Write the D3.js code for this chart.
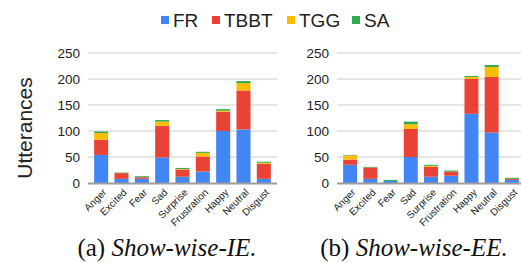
<!DOCTYPE html>
<html>
<head>
<meta charset="utf-8">
<script src="https://cdn.jsdelivr.net/npm/d3@7"></script>
<style>
  body { margin: 0; background: #fff; }
  svg text { font-family: "Liberation Sans", Arial, sans-serif; }
</style>
</head>
<body>
<div id="chart"></div>
<script>
const emotions = ["Anger", "Excited", "Fear", "Sad", "Surprise", "Frustration", "Happy", "Neutral", "Disgust"];
const shows = ["FR", "TBBT", "TGG", "SA"];
const yTicks = [0, 50, 100, 150, 200, 250];

// (a) Show-wise-IE
const ieFR   = [54, 8, 8, 49, 12, 22, 100, 103, 8];
const ieTBBT = [29, 11, 3, 61, 14, 29, 37, 75, 29];
const ieTGG  = [13, 0, 0, 8, 1, 7, 2, 14, 2];
const ieSA   = [3, 1, 2, 3, 2, 2, 3, 4, 2];

// (b) Show-wise-EE
const eeFR   = [35, 8, 4, 50, 12, 14, 133, 97, 6];
const eeTBBT = [10, 22, 0, 54, 19, 8, 67, 107, 2];
const eeTGG  = [8, 0, 0, 9, 2, 0, 4, 19, 0];
const eeSA   = [1, 1, 2, 5, 2, 2, 2, 4, 2];

const captions = ["Show-wise-IE.", "Show-wise-EE."];
const captionTags = ["(a) ", "(b) "];

const colors = ["#4285f4", "#ea4335", "#fbbc04", "#34a853"];

const w = 521, h = 263;
const svg = d3.select("#chart").append("svg").attr("width", w).attr("height", h);

const y = d3.scaleLinear().domain([0, 250]).range([183, 53]);
const color = d3.scaleOrdinal().domain(shows).range(colors);

function buildRows(series) {
  return emotions.map((e, i) => {
    const row = { emotion: e };
    shows.forEach((s, j) => { row[s] = series[j][i]; });
    return row;
  });
}

const panels = [
  { rows: buildRows([ieFR, ieTBBT, ieTGG, ieSA]), grid: [88, 277], band: [91, 274], labelX: 80, capX: 167 },
  { rows: buildRows([eeFR, eeTBBT, eeTGG, eeSA]), grid: [337, 521], band: [340, 522], labelX: 329, capX: 414 }
];

panels.forEach((p, k) => {
  const g = svg.append("g");
  const x = d3.scaleBand().domain(emotions).range(p.band).paddingInner(0.31).paddingOuter(0.155);

  // gridlines
  g.selectAll(".grid")
    .data(yTicks.slice(1))
    .enter()
    .append("line")
    .attr("x1", p.grid[0]).attr("x2", p.grid[1])
    .attr("y1", d => y(d)).attr("y2", d => y(d))
    .attr("stroke", "#cccccc").attr("stroke-width", 1);

  // y tick labels
  g.selectAll(".ytick")
    .data(yTicks)
    .enter()
    .append("text")
    .attr("x", p.labelX)
    .attr("y", d => y(d) + 5)
    .attr("text-anchor", "end")
    .style("font-size", "13.5px")
    .style("fill", "#222")
    .text(d => d);

  // stacked bars
  const stacked = d3.stack().keys(shows)(p.rows);
  g.selectAll(".layer")
    .data(stacked)
    .enter()
    .append("g")
    .attr("fill", d => color(d.key))
    .selectAll("rect")
    .data(d => d)
    .enter()
    .append("rect")
    .attr("x", d => x(d.data.emotion))
    .attr("width", x.bandwidth())
    .attr("y", d => y(d[1]))
    .attr("height", d => y(d[0]) - y(d[1]));

  // baseline
  g.append("line")
    .attr("x1", p.grid[0]).attr("x2", p.grid[1])
    .attr("y1", y(0) + 0.5).attr("y2", y(0) + 0.5)
    .attr("stroke", "#9e9e9e").attr("stroke-width", 2);

  // x labels
  g.selectAll(".xtick")
    .data(emotions)
    .enter()
    .append("text")
    .attr("transform", d => `translate(${x(d) + x.bandwidth() / 2 + 6}, 193) rotate(-45)`)
    .attr("text-anchor", "end")
    .style("font-size", "10px")
    .style("fill", "#222")
    .text(d => d);

  // caption
  const cap = svg.append("text")
    .attr("x", p.capX)
    .attr("y", 256)
    .attr("text-anchor", "middle")
    .style("font-family", "'Liberation Serif', 'Times New Roman', serif")
    .style("font-size", "25px")
    .style("fill", "#111");
  cap.append("tspan").text(captionTags[k]);
  cap.append("tspan").style("font-style", "italic").text(captions[k]);
});

// y axis title
svg.append("text")
  .attr("transform", "translate(32, 128) rotate(-90)")
  .attr("text-anchor", "middle")
  .style("font-size", "21px")
  .style("fill", "#222")
  .text("Utterances");

// legend
const legendX = [161, 212, 287, 352];
const legend = svg.selectAll(".legend")
  .data(shows)
  .enter()
  .append("g")
  .attr("transform", (d, i) => `translate(${legendX[i]}, 0)`);
legend.append("rect")
  .attr("x", 0).attr("y", 16)
  .attr("width", 8).attr("height", 8)
  .attr("fill", d => color(d));
legend.append("text")
  .attr("x", 12).attr("y", 27)
  .style("font-size", "19px")
  .style("fill", "#222")
  .text(d => d);
</script>
</body>
</html>
